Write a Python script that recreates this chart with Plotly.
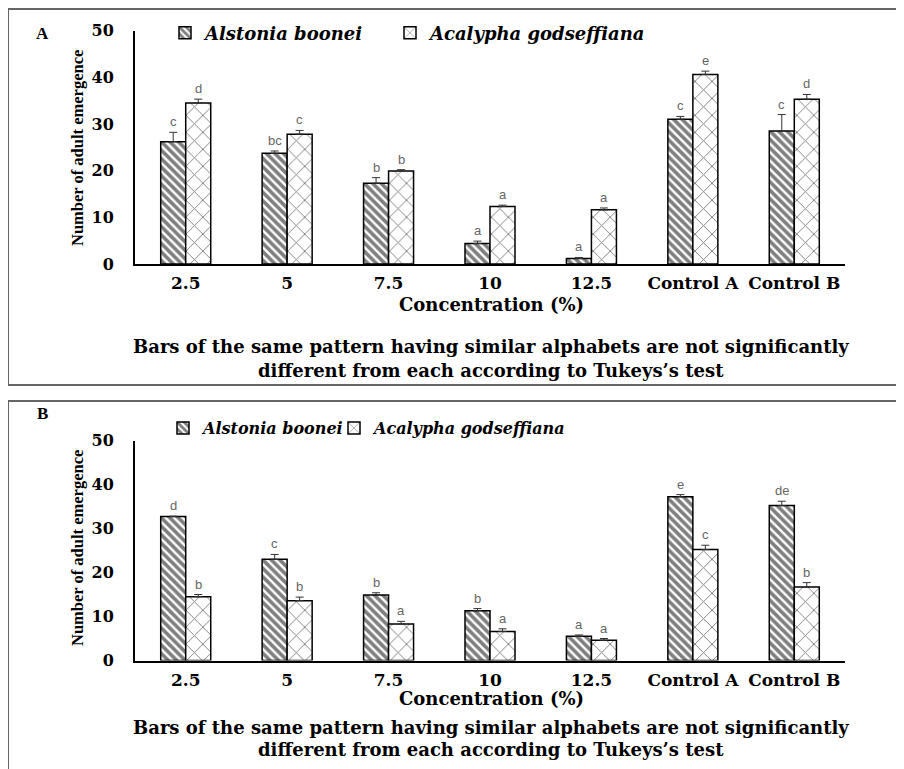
import plotly.graph_objects as go

categories = ["2.5", "5", "7.5", "10", "12.5", "Control A", "Control B"]

# Panel A
alst_A = [26.2, 23.7, 17.3, 4.4, 1.2, 31.0, 28.5]
alst_A_err = [2.0, 0.5, 1.2, 0.5, 0.2, 0.6, 3.5]
acal_A = [34.5, 27.8, 19.9, 12.3, 11.6, 40.6, 35.3]
acal_A_err = [0.8, 0.8, 0.3, 0.3, 0.4, 0.7, 1.0]
alst_A_letters = ["c", "bc", "b", "a", "a", "c", "c"]
acal_A_letters = ["d", "c", "b", "a", "a", "e", "d"]

# Panel B
alst_B = [32.7, 23.0, 14.9, 11.3, 5.5, 37.2, 35.2]
alst_B_err = [0.1, 1.1, 0.5, 0.5, 0.3, 0.5, 1.0]
acal_B = [14.5, 13.6, 8.3, 6.6, 4.6, 25.2, 16.7]
acal_B_err = [0.5, 0.8, 0.6, 0.6, 0.4, 1.0, 1.0]
alst_B_letters = ["d", "c", "b", "b", "a", "e", "de"]
acal_B_letters = ["b", "b", "a", "a", "a", "c", "b"]

y_ticks = [0, 10, 20, 30, 40, 50]
series_names = ["Alstonia boonei", "Acalypha godseffiana"]
y_title = "Number of adult emergence"
x_title = "Concentration (%)"
note_lines = ["Bars of the same pattern having similar alphabets are not significantly",
              "different from each according to Tukeys\u2019s test"]

W, H = 904, 769
OFF = 8  # page body margin offset
def py(p):
    return 1 - (p - OFF) / H
def px(p):
    return (p - OFF) / W

SERIF_W = "DejaVu Serif"
SERIF = "Liberation Serif"

fig = go.Figure()

def add_panel(xa, ya, alst, alst_err, acal, acal_err, leg1, leg2):
    fig.add_trace(go.Bar(
        x=categories, y=alst, name=series_names[0], xaxis=xa, yaxis=ya, legend=leg1,
        marker=dict(color="white", line=dict(color="black", width=1.5),
                    pattern=dict(shape="\\", fgcolor="black", bgcolor="white", size=6, solidity=0.6)),
        error_y=dict(type="data", array=alst_err, arrayminus=[0] * len(alst_err), symmetric=False,
                     color="#333", thickness=1, width=4)))
    fig.add_trace(go.Bar(
        x=categories, y=acal, name=series_names[1], xaxis=xa, yaxis=ya, legend=leg2,
        marker=dict(color="white", line=dict(color="black", width=1.5),
                    pattern=dict(shape="x", fgcolor="black", bgcolor="white", size=12, solidity=0.15)),
        error_y=dict(type="data", array=acal_err, arrayminus=[0] * len(acal_err), symmetric=False,
                     color="#333", thickness=1, width=4)))

add_panel("x", "y", alst_A, alst_A_err, acal_A, acal_A_err, "legend", "legend2")
add_panel("x2", "y2", alst_B, alst_B_err, acal_B, acal_B_err, "legend3", "legend4")

annotations = []
def add_letters(xref, yref, vals, errs, letters, shift):
    for i, (v, e, l) in enumerate(zip(vals, errs, letters)):
        annotations.append(dict(x=i, y=v + e, xref=xref, yref=yref, text=l, showarrow=False,
                                xshift=shift, yshift=1, yanchor="bottom",
                                font=dict(family="Liberation Sans", size=13, color="#666")))

add_letters("x", "y", alst_A, alst_A_err, alst_A_letters, -12.5)
add_letters("x", "y", acal_A, acal_A_err, acal_A_letters, 12.5)
add_letters("x2", "y2", alst_B, alst_B_err, alst_B_letters, -12.5)
add_letters("x2", "y2", acal_B, acal_B_err, acal_B_letters, 12.5)

def text_ann(x, y, text, font, size, angle=0, style="normal"):
    annotations.append(dict(x=px(x), y=py(y), xref="paper", yref="paper", text=text, showarrow=False,
                            xanchor="center", yanchor="middle", textangle=angle,
                            font=dict(family=font, size=size, color="black", weight="bold", style=style)))

# Panel A texts
text_ann(42, 33, "A", SERIF, 17)
text_ann(77, 148, y_title, SERIF, 16.5, angle=-90)
text_ann(491, 304, x_title, SERIF_W, 18)
text_ann(491, 347, note_lines[0], SERIF_W, 18)
text_ann(491, 370, note_lines[1], SERIF_W, 18)
# Panel B texts
text_ann(42, 413, "B", SERIF, 17)
text_ann(77, 548, y_title, SERIF, 16.5, angle=-90)
text_ann(491, 698, x_title, SERIF_W, 18)
text_ann(491, 727, note_lines[0], SERIF_W, 18)
text_ann(491, 749, note_lines[1], SERIF_W, 18)

shapes = [
    dict(type="rect", xref="paper", yref="paper", x0=px(8), x1=1.02, y0=py(385), y1=py(9),
         line=dict(color="#666", width=2)),
    dict(type="rect", xref="paper", yref="paper", x0=px(8), x1=1.02, y0=-0.05, y1=py(401),
         line=dict(color="#666", width=2)),
]

xdom = [px(135), px(845)]
xtickfont = dict(family=SERIF_W, size=17, color="black", weight="bold")
ytickfont = dict(family=SERIF_W, size=16, color="black", weight="bold")
xaxis_common = dict(domain=xdom, type="category", range=[-0.5, 6.5], showline=True,
                    linecolor="black", linewidth=2, ticks="", tickangle=0,
                    showgrid=False, zeroline=False, tickfont=xtickfont, ticklabelstandoff=3,
                    fixedrange=True)
yaxis_common = dict(range=[0, 50], tickvals=y_ticks, showline=True, linecolor="black", linewidth=2,
                    ticks="", showgrid=False, zeroline=False, tickfont=ytickfont,
                    ticklabelstandoff=16, fixedrange=True)

def legend_at(x_text, y, size):
    return dict(x=px(x_text - 40), y=py(y), xanchor="left", yanchor="middle", orientation="h",
                bgcolor="rgba(0,0,0,0)", borderwidth=0,
                font=dict(family=SERIF_W, size=size, color="black", weight="bold", style="italic"))

fig.update_layout(
    width=W, height=H, margin=dict(l=0, r=0, t=0, b=0, autoexpand=False),
    paper_bgcolor="white", plot_bgcolor="white",
    barmode="group", bargap=0.507, bargroupgap=0,
    xaxis=dict(anchor="y", **xaxis_common),
    yaxis=dict(anchor="x", domain=[py(264), py(30.5)], **yaxis_common),
    xaxis2=dict(anchor="y2", **xaxis_common),
    yaxis2=dict(anchor="x2", domain=[py(660.5), py(440.5)], **yaxis_common),
    legend=legend_at(205, 33, 18),
    legend2=legend_at(430, 33, 18),
    legend3=legend_at(203, 428, 16),
    legend4=legend_at(374, 428, 16),
    annotations=annotations,
    shapes=shapes,
    showlegend=True,
)

fig.write_html("out.html")
